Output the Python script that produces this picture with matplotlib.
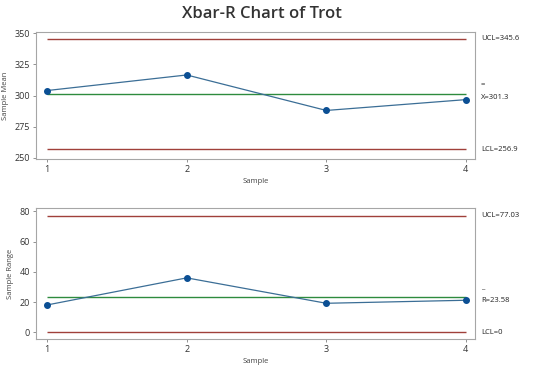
import matplotlib
matplotlib.use("Agg")
import matplotlib.pyplot as plt

plt.rcParams['font.family'] = ['Open Sans', 'DejaVu Sans']

samples = [1, 2, 3, 4]
sample_means = [304.0, 316.5, 288.0, 296.7]
sample_ranges = [18.1, 36.0, 19.2, 21.2]

xbar_ucl, xbar_center, xbar_lcl = 345.6, 301.3, 256.9
r_ucl, r_center, r_lcl = 77.03, 23.58, 0.0

limit_color = '#a0403a'
center_color = '#2e8b3e'
line_color = '#3b6e96'
marker_color = '#0b4f94'
frame_color = '#a6a6a6'

fig = plt.figure(figsize=(5.5, 3.71), dpi=100)
ax1 = fig.add_axes([0.0655, 0.5714, 0.798, 0.3423])
ax2 = fig.add_axes([0.0655, 0.0863, 0.798, 0.3531])


def draw_panel(ax, values, ucl, center, lcl, ylim, yticks, ylabel, labels):
    ax.hlines([ucl, lcl], samples[0], samples[-1], colors=limit_color, lw=1.0)
    ax.hlines(center, samples[0], samples[-1], colors=center_color, lw=1.0)
    ax.plot(samples, values, color=line_color, lw=0.9, marker='o',
            markersize=4, markerfacecolor=marker_color, markeredgecolor=marker_color)
    ax.set_xlim(0.92, 4.065)
    ax.set_ylim(*ylim)
    ax.set_xticks(samples)
    ax.set_yticks(yticks)
    ax.tick_params(labelsize=6.5, length=2.5, width=0.6, color='#808080',
                   labelcolor='#333333', pad=2)
    for s in ax.spines.values():
        s.set_color(frame_color)
        s.set_linewidth(0.8)
    ax.set_xlabel('Sample', fontsize=5.5, color='#444444', labelpad=3)
    ax.set_ylabel(ylabel, fontsize=5.5, color='#444444', labelpad=4)
    tr = ax.get_yaxis_transform()
    ax.text(1.014, ucl, labels[0], transform=tr, fontsize=5.5, va='center', color='#222222')
    ax.text(1.014, center, labels[1], transform=tr, fontsize=5.5, va='top', color='#222222')
    ax.annotate(labels[2], (1.014, center), xycoords=tr, xytext=(0, 4),
                textcoords='offset points', fontsize=5.5, va='bottom', color='#222222')
    ax.text(1.014, lcl, labels[3], transform=tr, fontsize=5.5, va='center', color='#222222')


draw_panel(ax1, sample_means, xbar_ucl, xbar_center, xbar_lcl, (249, 351),
           [250, 275, 300, 325, 350], 'Sample Mean',
           ['UCL=345.6', 'X=301.3', '=', 'LCL=256.9'])
draw_panel(ax2, sample_ranges, r_ucl, r_center, r_lcl, (-4.4, 82.2),
           [0, 20, 40, 60, 80], 'Sample Range',
           ['UCL=77.03', 'R=23.58', '_', 'LCL=0'])

fig.suptitle('Xbar-R Chart of Trot', x=0.476, y=0.985, fontsize=12,
             fontweight='semibold', color='#333333')

fig.savefig('out.png', dpi=100, facecolor='white')
